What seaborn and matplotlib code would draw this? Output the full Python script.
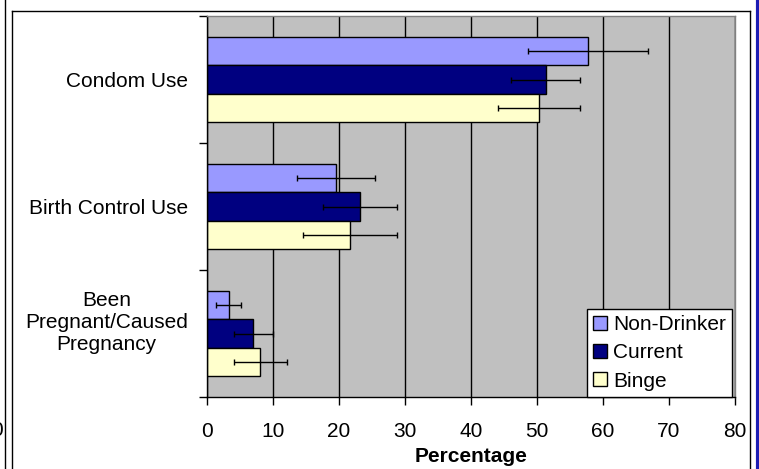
import pandas as pd
import seaborn as sns
import matplotlib.pyplot as plt
from matplotlib.lines import Line2D

categories = ['Condom Use', 'Birth Control Use', 'Been\nPregnant/Caused\nPregnancy']
groups = ['Non-Drinker', 'Current', 'Binge']
non_drinker = [57.7, 19.5, 3.3]
current = [51.3, 23.2, 7.0]
binge = [50.3, 21.7, 8.1]
non_drinker_err = [9.1, 5.9, 1.9]
current_err = [5.2, 5.6, 2.95]
binge_err = [6.2, 7.1, 4.0]
x_ticks = [0, 10, 20, 30, 40, 50, 60, 70, 80]

colors = ['#9999ff', '#000080', '#ffffcc']

plt.rcParams['font.family'] = ['Liberation Sans', 'DejaVu Sans']
FS = 15

W, H = 759, 469


def px(x):
    return x / W


def py(y):
    return 1 - y / H


rows = []
for g, vals, errs in zip(groups, [non_drinker, current, binge],
                         [non_drinker_err, current_err, binge_err]):
    for c, v, e in zip(categories, vals, errs):
        rows.append({'item': c, 'group': g, 'pct': v, 'err': e})
data = pd.DataFrame(rows)

fig = plt.figure(figsize=(W / 100, H / 100), dpi=100)
ax = fig.add_axes([px(207), py(397), px(735) - px(207), py(16) - py(397)])
ax.set_facecolor('#c0c0c0')
ax.set_axisbelow(True)

sns.barplot(data=data, x='pct', y='item', hue='group', order=categories,
            hue_order=groups, palette=colors, saturation=1, width=0.67,
            orient='h', errorbar=None, edgecolor='black', linewidth=1, ax=ax)

# error bars on top of each bar
for g, cont in zip(groups, ax.containers):
    sub = data[data['group'] == g].set_index('item').loc[categories]
    ys = [b.get_y() + b.get_height() / 2 for b in cont]
    xs = [b.get_width() for b in cont]
    ax.errorbar(xs, ys, xerr=sub['err'].values, fmt='none', ecolor='black',
                elinewidth=1, capsize=2.5, capthick=1, zorder=3)

ax.xaxis.grid(True, color='black', linewidth=1)
ax.yaxis.grid(False)
ax.set_xlim(0, 80)
ax.set_xticks(x_ticks)
ax.set_xticklabels([str(t) for t in x_ticks], fontsize=FS)
ax.tick_params(axis='x', length=6, width=1, pad=12, color='black')

# category boundaries get the tick marks, names sit in between
ax.set_ylim(2.5, -0.5)
ax.set_yticks([-0.5, 0.5, 1.5, 2.5])
ax.set_yticklabels([])
ax.set_yticks([0, 1], labels=categories[:2], minor=True, fontsize=FS)
ax.tick_params(axis='y', which='major', length=6, width=1, color='black')
ax.tick_params(axis='y', which='minor', length=0, pad=13.5)
# the three-line label sits a little above its band centre
ax.annotate(categories[2], xy=(0, 2), xycoords=('axes fraction', 'data'),
            xytext=(-13.7, 8), textcoords='offset points', ha='right',
            va='center', multialignment='center', fontsize=FS)

ax.set_ylabel('')
ax.set_xlabel('Percentage', fontsize=FS, fontweight='bold', labelpad=4)

for s in ['left', 'bottom']:
    ax.spines[s].set_color('black')
    ax.spines[s].set_linewidth(1)
for s in ['top', 'right']:
    ax.spines[s].set_color('#808080')
    ax.spines[s].set_linewidth(1)

handles, labels = ax.get_legend_handles_labels()
leg = ax.legend(handles, labels, loc='lower right',
                bbox_to_anchor=(0.995, 0), borderaxespad=0, fontsize=FS,
                frameon=True, fancybox=False, handlelength=0.65,
                handleheight=0.65, handletextpad=0.3, labelspacing=0.45,
                borderpad=0.3)
leg.get_frame().set_edgecolor('black')
leg.get_frame().set_linewidth(1)
leg.get_frame().set_facecolor('white')
leg.get_frame().set_alpha(1)

# chart frame and neighbouring edges
frame = [
    ([5, 5], [0, H]),
    ([12, 12], [11, H]),
    ([12, 750], [11, 11]),
    ([750, 750], [11, H]),
]
for xs, ys in frame:
    fig.add_artist(Line2D([px(x) for x in xs], [py(y) for y in ys],
                          color='black', linewidth=1))
fig.add_artist(Line2D([px(757.5), px(757.5)], [0, 1], color='#1c1cb4',
                      linewidth=3))
fig.text(px(3), py(430), '0', fontsize=FS, ha='right', va='center')

fig.savefig('out.png', dpi=100)
